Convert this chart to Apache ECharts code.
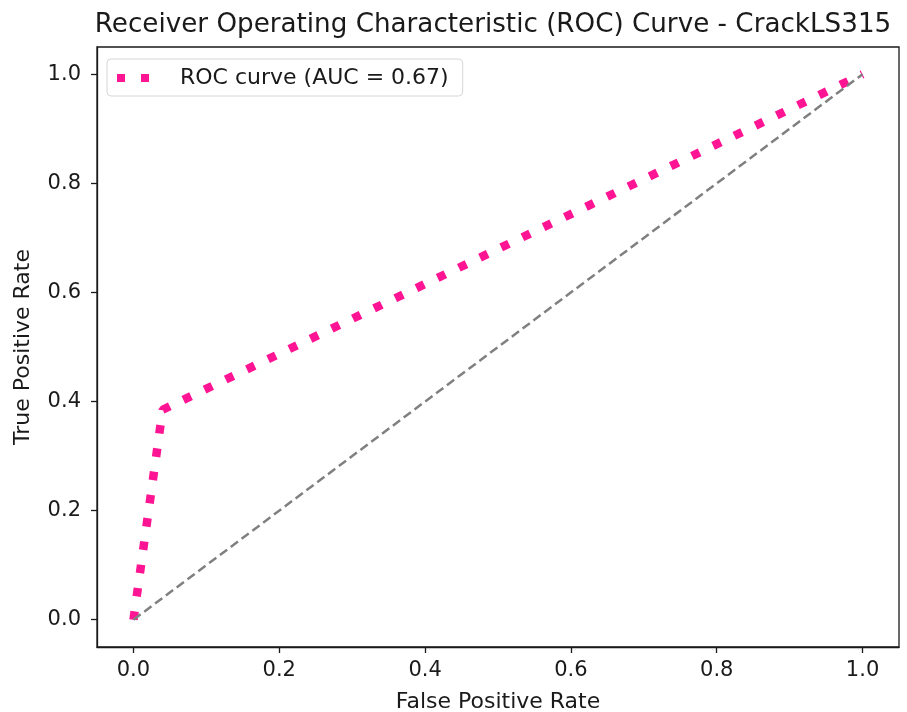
<!DOCTYPE html>
<html>
<head>
<meta charset="utf-8">
<script src="https://cdn.jsdelivr.net/npm/echarts@6/dist/echarts.min.js"></script>
<style>
  html, body { margin: 0; padding: 0; background: #fff; }
  #chart { width: 907px; height: 712px; }
</style>
</head>
<body>
<div id="chart"></div>
<script>
const rocFpr = [0, 0.04, 1];
const rocTpr = [0, 0.385, 1];
const chanceFpr = [0, 1];
const chanceTpr = [0, 1];
const tickValues = [0, 0.2, 0.4, 0.6, 0.8, 1.0];
const rocName = 'ROC curve (AUC = 0.67)';

function pairs(xs, ys) {
    return xs.map((x, i) => [x, ys[i]]);
}

const FONT = 'DejaVu Sans';
const INK = '#1a1a1a';

function makeAxis(name, isX) {
    return {
        type: 'value',
        min: -0.05,
        max: 1.05,
        name: name,
        nameLocation: 'middle',
        nameGap: isX ? 44 : 63,
        nameTextStyle: { fontFamily: FONT, fontSize: 22, color: INK },
        axisLine: { show: true, onZero: false, lineStyle: { color: INK, width: 1.3 } },
        axisTick: {
            show: true,
            length: 6,
            customValues: tickValues,
            lineStyle: { color: INK, width: 1.3 }
        },
        axisLabel: {
            customValues: tickValues,
            fontFamily: FONT,
            fontSize: 21,
            color: INK,
            margin: isX ? 13 : 16,
            formatter: v => v.toFixed(1)
        },
        splitLine: { show: false }
    };
}

document.addEventListener('DOMContentLoaded', () => {
    let chart = echarts.init(document.getElementById('chart'));
    let option = {
        animation: false,
        title: {
            text: 'Receiver Operating Characteristic (ROC) Curve - CrackLS315',
            left: 488,
            textAlign: 'center',
            top: 7,
            textStyle: { fontFamily: FONT, fontSize: 26.2, fontWeight: 'normal', color: INK }
        },
        grid: {
            left: 97,
            right: 8,
            top: 47,
            bottom: 65,
            outerBoundsMode: 'none',
            containLabel: false,
            show: true,
            borderColor: INK,
            borderWidth: 1.3,
            backgroundColor: 'transparent'
        },
        legend: {
            data: [{ name: rocName, icon: 'path://M0,0h8v8h-8zM24,0h8v8h-8z' }],
            left: 107,
            top: 59,
            orient: 'vertical',
            itemWidth: 32,
            itemHeight: 8,
            itemGap: 0,
            padding: [8, 14, 7, 10],
            backgroundColor: '#fff',
            borderColor: '#d6d6d6',
            borderWidth: 1,
            borderRadius: 4,
            textStyle: { fontFamily: FONT, fontSize: 22, color: INK, padding: [0, 0, 0, 26] }
        },
        xAxis: makeAxis('False Positive Rate', true),
        yAxis: makeAxis('True Positive Rate', false),
        series: [
            {
                name: rocName,
                type: 'line',
                data: pairs(rocFpr, rocTpr),
                symbol: 'none',
                lineStyle: { color: '#FF1493', width: 8.5, type: [8.5, 15], cap: 'butt' },
                itemStyle: { color: '#FF1493' },
                z: 2
            },
            {
                name: 'chance',
                type: 'line',
                data: pairs(chanceFpr, chanceTpr),
                symbol: 'none',
                lineStyle: { color: '#808080', width: 2.5, type: [9, 4.5] },
                z: 3
            }
        ]
    };
    chart.setOption(option);
});
</script>
</body>
</html>
